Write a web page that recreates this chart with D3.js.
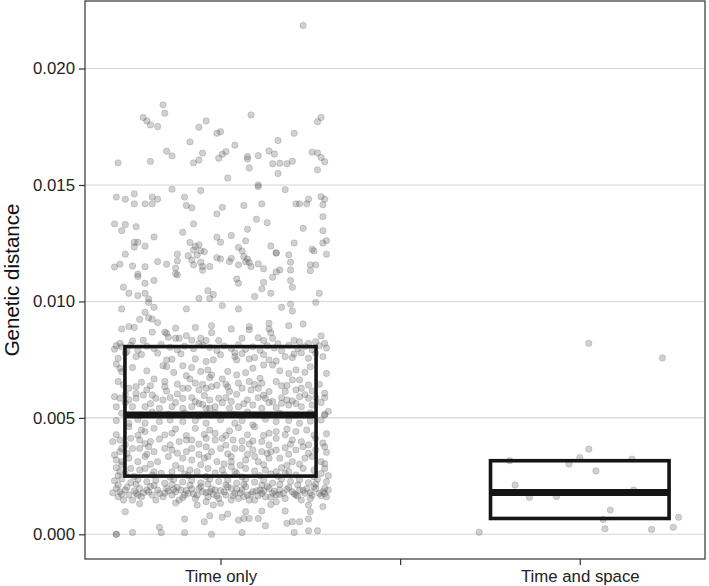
<!DOCTYPE html>
<html>
<head>
<meta charset="utf-8">
<script src="https://cdn.jsdelivr.net/npm/d3@7"></script>
<style>
  html, body { margin: 0; padding: 0; background: #fff; }
  svg text { font-family: "Liberation Sans", Arial, sans-serif; }
</style>
</head>
<body>
<div id="chart"></div>
<script>

const categories = ["Time only", "Time and space"];
const xTickLabels = ["Time only", "", "Time and space"];
const yTicks = [0, 0.005, 0.010, 0.015, 0.020];

// box stats per category
const q1Vals = [0.0025, 0.00068];
const medianVals = [0.00512, 0.0018];
const q3Vals = [0.00806, 0.00316];

// [jitter offset (category units), genetic distance]
const timeOnly = [
  [0.46,0.02185],
  [-0.32,0.01844],[-0.31,0.01808],[-0.43,0.0179],[-0.41,0.01775],[-0.39,0.01758],[-0.35,0.01751],[-0.08,0.01775],[-0.12,0.01748],[0.17,0.01801],[0.56,0.0179],[0.54,0.01772],[-0.02,0.01722],[0.0,0.01729],[0.41,0.01722],[-0.17,0.01685],[0.32,0.01691],[0.08,0.01671],[-0.30,0.01645],[-0.27,0.01625],[-0.57,0.01595],[-0.39,0.01601],[-0.15,0.01595],[-0.12,0.01607],[-0.10,0.01637],[-0.01,0.01615],[0.01,0.01632],[0.03,0.01643],[0.15,0.01622],[0.15,0.01612],[0.21,0.01626],[0.16,0.01573],[0.27,0.01646],[0.30,0.01633],[0.29,0.01591],[0.33,0.01593],[0.37,0.01591],[0.40,0.01602],[0.32,0.01549],[0.51,0.01641],[0.54,0.01638],[0.56,0.01618],[0.58,0.016],[0.54,0.01565],[0.04,0.0153],[0.21,0.015],
  [-0.58,0.01448],[-0.53,0.01439],[-0.48,0.01462],[-0.48,0.01419],[-0.42,0.01419],[-0.38,0.01419],[-0.38,0.01448],[-0.35,0.01439],[-0.27,0.01482],[-0.20,0.01448],[-0.19,0.01412],[-0.16,0.01402],[-0.11,0.01476],[0.01,0.01404],[-0.02,0.01376],[0.13,0.01412],[0.23,0.01419],[0.21,0.01493],[0.36,0.0148],[0.42,0.01419],[0.44,0.01419],[0.48,0.01419],[0.49,0.01439],[0.56,0.0145],[0.58,0.01439],[0.57,0.01415],[0.57,0.01364],
  [-0.59,0.01333],[-0.53,0.0133],[-0.55,0.01304],[-0.47,0.01321],[-0.15,0.01333],[-0.21,0.01297],[0.20,0.01353],[0.26,0.01338],[0.15,0.0131],[0.06,0.01283],[0.46,0.01314],[0.57,0.01304],[-0.37,0.01277],[-0.48,0.01254],[-0.46,0.01254],[-0.48,0.01234],[-0.42,0.01237],[-0.53,0.01203],[-0.56,0.0116],[-0.59,0.01148],[-0.49,0.01152],[-0.42,0.01149],[-0.35,0.01171],[-0.30,0.0116],[-0.46,0.01117],
  [-0.24,0.01203],[-0.24,0.01174],[-0.25,0.01143],[-0.25,0.01119],[-0.18,0.01196],[-0.17,0.01253],[-0.15,0.01221],[-0.14,0.01236],[-0.12,0.01243],[-0.13,0.01199],[-0.11,0.01217],[-0.09,0.01214],[-0.16,0.01178],[-0.15,0.01157],[-0.11,0.01168],[-0.10,0.0115],[-0.06,0.0115],[-0.10,0.01134],[-0.02,0.01276],[0.0,0.01254],[-0.02,0.01188],[0.0,0.01182],[0.05,0.01171],[0.06,0.01185],[0.10,0.01157],[0.10,0.01232],[0.14,0.0126],[0.12,0.01217],[0.13,0.01193],[0.15,0.01182],[0.16,0.01167],[0.14,0.0117],[0.17,0.0115],[0.21,0.01161],[0.24,0.0114],[0.28,0.01238],[0.31,0.01207],[0.31,0.01209],[0.31,0.01127],[0.33,0.01135],[0.38,0.012],[0.39,0.01168],[0.39,0.01135],[0.41,0.01251],[0.50,0.01157],[0.53,0.01157],[0.51,0.01224],[0.52,0.01217],[0.57,0.01251],[0.59,0.01261],[0.59,0.01203],[0.50,0.01132],
  [-0.46,0.01107],[-0.42,0.01078],[-0.37,0.0109],[-0.24,0.01114],[-0.54,0.01061],[-0.51,0.01035],[-0.46,0.01025],[-0.42,0.01035],[-0.40,0.01011],[-0.40,0.00996],[-0.37,0.00975],[-0.55,0.00968],[-0.42,0.00954],[-0.40,0.0093],[-0.45,0.00923],[-0.38,0.00924],[-0.35,0.00909],[-0.55,0.00882],[-0.51,0.00892],[-0.48,0.00888],[-0.25,0.00885],[-0.38,0.00868],[-0.31,0.00868],[-0.19,0.00968],[-0.14,0.00888],[-0.12,0.01013],[-0.07,0.01046],[-0.06,0.01013],[-0.04,0.0103],[-0.05,0.00896],[-0.05,0.00866],[0.01,0.00982],[0.09,0.01096],[0.10,0.01078],[0.10,0.00968],[0.06,0.00882],[0.16,0.00892],[0.16,0.00878],[0.19,0.01021],[0.23,0.01054],[0.24,0.01082],[0.28,0.01035],[0.29,0.01104],[0.39,0.0109],[0.40,0.01061],[0.34,0.00975],[0.39,0.00988],[0.40,0.00959],[0.27,0.00906],[0.27,0.00882],[0.28,0.00866],[0.38,0.00896],[0.46,0.00903],[0.55,0.01035],[0.53,0.00996],[0.56,0.00852],
  [-0.30,0.00863],[-0.29,0.00846],[-0.25,0.00842],[-0.23,0.00842],[-0.19,0.00853],[-0.16,0.00833],[-0.11,0.00842],[-0.08,0.00832],[-0.01,0.00832],[0.12,0.00842],[0.21,0.00844],[0.24,0.00832],[0.29,0.00842],[0.41,0.00832],[0.44,0.00827],[0.49,0.0082],[0.53,0.00827],[0.58,0.0082],[-0.56,0.0082],[-0.58,0.0081],[-0.49,0.0083],[-0.43,0.00833],
  [-0.59,0.00795],[-0.55,0.00805],[-0.50,0.00812],[-0.46,0.0079],[-0.41,0.00808],[-0.37,0.00798],[-0.33,0.00815],[-0.28,0.00803],[-0.24,0.00792],[-0.20,0.00808],[-0.15,0.00797],[-0.10,0.00812],[-0.06,0.00802],[-0.02,0.00789],[0.02,0.00809],[0.06,0.00798],[0.10,0.00814],[0.14,0.00795],[0.18,0.00805],[0.22,0.0079],[0.26,0.0081],[0.30,0.008],[0.34,0.00788],[0.38,0.00812],[0.43,0.00798],[0.47,0.00806],[0.51,0.00792],[0.55,0.0081],[0.59,0.008],[-0.52,0.00785],[-0.12,0.00818],[0.08,0.0078],[0.32,0.00818],[-0.35,0.00778],[0.45,0.00779],
  [-0.53,0.00778],[-0.44,0.00772],[-0.22,0.00775],[0.0,0.00771],[0.12,0.00776],[0.24,0.00771],[0.41,0.00774],[0.53,0.00777],
  [-0.47,0.00763],[-0.30,0.00749],[-0.27,0.00752],[-0.14,0.00753],[-0.08,0.00742],[-0.04,0.00749],[0.08,0.00763],[0.09,0.00749],[0.16,0.00753],[0.19,0.00759],[0.27,0.00749],[0.31,0.00744],[0.36,0.00763],[0.40,0.00759],[0.49,0.00756],[0.57,0.00763],[-0.56,0.00713],[-0.57,0.00756],[-0.58,0.0073],
  [-0.32,0.00724],[-0.30,0.0072],[-0.21,0.00724],[-0.16,0.00716],[-0.07,0.00706],[-0.05,0.00684],[0.04,0.00699],[0.09,0.00684],[0.18,0.00713],[0.24,0.00727],[0.29,0.00727],[0.38,0.00691],[0.42,0.00706],[0.50,0.0072],[0.59,0.00691],[-0.49,0.00716],
  [-0.55,0.00698],[-0.41,0.00702],[-0.26,0.00695],[-0.11,0.00699],[0.14,0.00694],[0.33,0.00702],[0.47,0.00696],
  [-0.44,0.00653],[-0.37,0.00667],[-0.31,0.00656],[-0.19,0.00681],[-0.17,0.00667],[-0.14,0.00649],[-0.10,0.00644],[-0.06,0.00673],[-0.08,0.00627],[0.01,0.00667],[0.03,0.00644],[0.10,0.00649],[0.16,0.00656],[0.22,0.0067],[0.23,0.00649],[0.31,0.00656],[0.40,0.00663],[0.44,0.00663],[0.49,0.00641],[0.45,0.00627],[-0.57,0.00656],[-0.47,0.00634],[-0.51,0.00627],
  [-0.54,0.00642],[-0.39,0.00638],[-0.24,0.00645],[-0.02,0.0064],[0.19,0.00643],[0.37,0.00639],[0.55,0.00644],
  [-0.41,0.0062],[-0.31,0.00634],[-0.30,0.00615],[-0.21,0.00627],[-0.18,0.00627],[-0.12,0.0062],[-0.05,0.00634],[0.04,0.00634],[0.05,0.00613],[0.12,0.00627],[0.17,0.0062],[0.21,0.00627],[0.27,0.00613],[0.34,0.00638],[0.36,0.00613],[0.42,0.0062],[0.51,0.00615],[-0.53,0.00601],[-0.47,0.00605],
  [-0.38,0.00598],[-0.24,0.00603],[-0.09,0.00596],[0.09,0.00601],[0.24,0.00597],[0.47,0.006],[0.58,0.00606],
  [-0.59,0.00591],[-0.56,0.00584],[-0.51,0.00577],[-0.47,0.00584],[-0.43,0.00598],[-0.36,0.00584],[-0.32,0.00577],[-0.28,0.00587],[-0.21,0.00584],[-0.16,0.00587],[-0.14,0.0057],[-0.10,0.00558],[-0.06,0.00577],[-0.01,0.00584],[0.03,0.00587],[0.06,0.0057],[0.15,0.00577],[0.21,0.00587],[0.25,0.00584],[0.29,0.0057],[0.34,0.00587],[0.37,0.00577],[0.40,0.00573],[0.44,0.00591],[0.49,0.00584],[0.53,0.00587],[0.58,0.00587],
  [-0.53,0.00565],[-0.39,0.00561],[-0.25,0.00566],[-0.12,0.00562],[0.01,0.00565],[0.13,0.00561],[0.27,0.00566],[0.42,0.00562],[0.56,0.00566],
  [-0.58,0.00548],[-0.49,0.00548],[-0.42,0.00548],[-0.34,0.00541],[-0.27,0.00548],[-0.21,0.00541],[-0.16,0.00548],[-0.08,0.00541],[-0.06,0.00541],[-0.03,0.00548],[0.05,0.00541],[0.10,0.00548],[0.18,0.00555],[0.23,0.00541],[0.31,0.00544],[0.34,0.00563],[0.38,0.00555],[0.45,0.00548],[0.51,0.00555],
  [-0.55,0.0052],[-0.45,0.00512],[-0.38,0.00525],[-0.29,0.00515],[-0.2,0.0052],[-0.12,0.00508],[-0.03,0.00522],[0.07,0.00515],[0.15,0.00525],[0.24,0.0051],[0.33,0.0052],[0.42,0.00512],[0.5,0.00522],[0.58,0.00515],[0.6,0.00528],
  [-0.51,0.00477],[-0.42,0.00477],[-0.34,0.00484],[-0.21,0.00484],[-0.08,0.00477],[0.08,0.00477],[0.18,0.0047],[0.31,0.00484],[0.44,0.00477],[0.56,0.00491],[0.58,0.00512],
  [-0.58,0.00488],[-0.46,0.00493],[-0.28,0.00491],[-0.14,0.00489],[0.0,0.00492],[0.12,0.00488],[0.25,0.00494],[0.38,0.00489],[0.5,0.00486],
  [-0.51,0.00462],[-0.44,0.00448],[-0.42,0.00441],[-0.37,0.00455],[-0.25,0.00452],[-0.27,0.00434],[-0.14,0.00455],[-0.06,0.00448],[-0.03,0.00434],[0.05,0.00444],[0.10,0.00458],[0.19,0.00462],[0.27,0.00434],[0.31,0.00441],[0.37,0.00452],[0.42,0.00441],[0.48,0.00448],
  [-0.58,0.00428],[-0.46,0.00425],[-0.31,0.00427],[-0.19,0.00424],[-0.09,0.00429],[0.03,0.00425],[0.15,0.00427],[0.24,0.00424],[0.36,0.00428],[0.52,0.00426],[0.59,0.00432],
  [-0.50,0.00412],[-0.45,0.00405],[-0.39,0.00398],[-0.34,0.00409],[-0.23,0.00398],[-0.19,0.00405],[-0.16,0.00405],[-0.08,0.00412],[-0.03,0.00405],[0.01,0.00412],[0.07,0.00405],[0.12,0.00401],[0.18,0.00401],[0.23,0.00398],[0.31,0.00412],[0.40,0.00405],[0.45,0.00398],[0.53,0.00412],[0.58,0.00376],[-0.60,0.00398],[-0.56,0.00405],
  [-0.53,0.00385],[-0.42,0.00389],[-0.28,0.00384],[-0.12,0.00387],[0.03,0.00383],[0.16,0.00388],[0.27,0.00384],[0.39,0.00387],[0.49,0.00384],[0.57,0.00392],
  [-0.49,0.00369],[-0.45,0.00369],[-0.40,0.00376],[-0.37,0.00355],[-0.31,0.00369],[-0.27,0.00362],[-0.19,0.00355],[-0.16,0.00369],[-0.08,0.00376],[-0.05,0.00355],[0.0,0.00369],[0.08,0.00369],[0.12,0.00369],[0.18,0.00362],[0.23,0.00355],[0.28,0.00355],[0.31,0.00362],[0.36,0.00372],[0.42,0.00362],[0.46,0.00376],[0.53,0.00362],[-0.59,0.00341],[-0.56,0.00355],[-0.55,0.00369],
  [-0.52,0.00347],[-0.41,0.00344],[-0.24,0.00348],[-0.12,0.00343],[0.04,0.00346],[0.15,0.00343],[0.26,0.00347],[0.38,0.00344],[0.49,0.00348],[0.59,0.00352],
  [-0.51,0.00327],[-0.46,0.00312],[-0.42,0.00334],[-0.35,0.00312],[-0.29,0.00334],[-0.21,0.00327],[-0.16,0.00319],[-0.09,0.00327],[-0.07,0.00334],[-0.02,0.00312],[0.06,0.00334],[0.06,0.00312],[0.14,0.00319],[0.19,0.00334],[0.21,0.00312],[0.27,0.00327],[0.33,0.00327],[0.40,0.00312],[0.47,0.00327],[0.51,0.00334],[0.56,0.00312],[-0.58,0.00319],[-0.55,0.00312],
  [-0.55,0.00298],[-0.39,0.00301],[-0.25,0.00296],[-0.11,0.00299],[0.02,0.00302],[0.11,0.00297],[0.24,0.00299],[0.37,0.00296],[0.44,0.00301],[0.58,0.00303],
  [-0.50,0.00283],[-0.45,0.00276],[-0.42,0.00283],[-0.37,0.00269],[-0.27,0.00269],[-0.22,0.00283],[-0.17,0.00276],[-0.13,0.00269],[-0.07,0.00283],[0.01,0.00276],[0.06,0.0029],[0.08,0.00269],[0.14,0.00283],[0.19,0.00272],[0.25,0.00276],[0.31,0.00269],[0.34,0.00286],[0.38,0.00269],[0.46,0.00283],[0.52,0.00276],[0.58,0.00283],[-0.58,0.00286],[-0.56,0.00269],
  [-0.53,0.0026],[-0.33,0.00262],[-0.2,0.00259],[-0.03,0.00263],[0.09,0.00261],[0.28,0.00259],[0.36,0.00262],[0.56,0.00261],
  [-0.57,0.00252],[-0.48,0.00248],[-0.38,0.00255],[-0.28,0.00245],[-0.18,0.00252],[-0.08,0.00248],[0.02,0.00255],[0.12,0.00246],[0.22,0.00252],[0.32,0.00249],[0.42,0.00255],[0.52,0.00247],[0.6,0.00252],
  [-0.59,0.0023],[-0.55,0.00238],[-0.5,0.00222],[-0.46,0.00235],[-0.41,0.00226],[-0.36,0.00232],[-0.31,0.00219],[-0.26,0.00236],[-0.21,0.00225],[-0.16,0.00231],[-0.11,0.00221],[-0.06,0.00237],[-0.01,0.00227],[0.04,0.00233],[0.09,0.0022],[0.14,0.00236],[0.19,0.00224],[0.24,0.00232],[0.29,0.0022],[0.34,0.00238],[0.39,0.00227],[0.44,0.00234],[0.49,0.00222],[0.54,0.00236],[0.59,0.00226],
  [-0.57,0.00212],[-0.47,0.00215],[-0.37,0.0021],[-0.27,0.00214],[-0.17,0.00211],[-0.07,0.00216],[0.03,0.00212],[0.13,0.00215],[0.23,0.00211],[0.33,0.00214],[0.43,0.00212],[0.53,0.00216],
  [-0.58,0.00197],[-0.56,0.00183],[-0.53,0.0019],[-0.51,0.00169],[-0.47,0.00176],[-0.45,0.00197],[-0.44,0.00161],[-0.41,0.0019],[-0.38,0.00169],[-0.35,0.0019],[-0.32,0.00161],[-0.30,0.00197],[-0.27,0.00169],[-0.25,0.00183],[-0.22,0.0019],[-0.20,0.00169],[-0.18,0.00176],[-0.14,0.00154],[-0.12,0.00197],[-0.10,0.00183],[-0.07,0.00161],[-0.06,0.00183],[-0.03,0.0019],[-0.01,0.00154],[0.03,0.00169],[0.06,0.00197],[0.08,0.00176],[0.10,0.00154],[0.12,0.0019],[0.15,0.00169],[0.18,0.00183],[0.19,0.00147],[0.22,0.0019],[0.25,0.00161],[0.27,0.00197],[0.29,0.00176],[0.31,0.00169],[0.33,0.0019],[0.36,0.00154],[0.40,0.00183],[0.42,0.00169],[0.44,0.0019],[0.47,0.00176],[0.50,0.00154],[0.53,0.00197],[0.55,0.00176],[0.57,0.00183],[0.59,0.00161],[-0.57,0.00161],[-0.54,0.00147],[-0.49,0.00147],[-0.36,0.00147],[-0.23,0.00147],[-0.08,0.0014],[0.06,0.00147],[0.16,0.00147],[0.31,0.0014],[0.45,0.00147],[0.60,0.0019],
  [-0.6,0.00178],[-0.52,0.00203],[-0.48,0.00186],[-0.43,0.00178],[-0.39,0.00205],[-0.34,0.00175],[-0.29,0.00186],[-0.24,0.00202],[-0.19,0.00188],[-0.15,0.00174],[-0.11,0.00205],[-0.08,0.00179],[-0.04,0.00172],[0.0,0.00188],[0.04,0.00203],[0.07,0.00166],[0.11,0.00178],[0.14,0.00204],[0.17,0.00172],[0.2,0.00187],[0.23,0.00175],[0.26,0.00205],[0.3,0.00185],[0.35,0.00176],[0.38,0.00201],[0.41,0.00174],[0.46,0.00188],[0.5,0.00179],[0.52,0.00204],[0.56,0.00166],[0.58,0.00198],
  [-0.55,0.00172],[-0.46,0.00168],[-0.4,0.00182],[-0.31,0.00177],[-0.26,0.00193],[-0.21,0.00158],[-0.16,0.00195],[-0.13,0.00168],[-0.05,0.00196],[-0.02,0.00165],[0.02,0.00182],[0.09,0.00194],[0.13,0.00162],[0.21,0.00166],[0.24,0.00187],[0.28,0.00159],[0.33,0.00171],[0.37,0.00193],[0.43,0.00164],[0.48,0.00196],[0.51,0.00168],[0.58,0.00175],
  [-0.45,0.00131],[0.0,0.00133],[0.28,0.00128],[-0.25,0.00135],
  [-0.53,0.00097],[-0.20,0.00066],[-0.09,0.00054],[-0.06,0.0008],[0.01,0.00073],[0.04,0.00087],[0.10,0.00061],[0.13,0.00068],[0.16,0.00068],[0.14,0.00097],[0.21,0.00068],[0.23,0.001],[0.25,0.00037],[0.36,0.001],[0.37,0.00047],[0.40,0.00054],[0.44,0.00054],[0.49,0.00066],[0.50,0.00097],[0.57,0.00119],[-0.34,0.0003],[-0.33,0.00007],[-0.49,0.00008],[-0.58,0.0],[-0.58,0.0],[-0.20,0.00007],[-0.05,0.0],[0.12,0.00007],[0.41,0.00008],[0.49,0.00015],[0.54,0.00015],[-0.13,0.00126],[-0.04,0.00126],[0.49,0.00126]
];

const timeAndSpace = [
  [0.05,0.0082],[0.46,0.00757],[0.05,0.00366],[-0.39,0.00316],[0.0,0.00329],[-0.06,0.00302],[0.29,0.00323],[0.09,0.00272],[-0.36,0.00212],[-0.28,0.00159],[-0.13,0.00162],[0.30,0.0019],[0.17,0.00104],[0.13,0.00064],[0.55,0.00073],[0.14,0.00024],[0.40,0.00021],[0.52,0.0003],[-0.56,0.00009]
];

const width = 709, height = 586;
const panel = {left: 85, right: 705, top: 1, bottom: 559};
const catPos = [1, 3];
const boxHalf = [0.532, 0.497];

const svg = d3.select("#chart").append("svg")
    .attr("width", width)
    .attr("height", height);

const x = d3.scaleLinear()
    .domain([0.2457, 3.697])
    .range([panel.left, panel.right]);

const y = d3.scaleLinear()
    .domain([-0.00106, 0.0229])
    .range([panel.bottom, panel.top]);

// horizontal grid
svg.append("g")
    .selectAll("line")
    .data(yTicks)
    .enter()
    .append("line")
    .attr("x1", panel.left)
    .attr("x2", panel.right)
    .attr("y1", d => y(d))
    .attr("y2", d => y(d))
    .attr("stroke", "#d6d6d6")
    .attr("stroke-width", 1.1);

const groups = [timeOnly, timeAndSpace];

groups.forEach((pts, i) => {
    svg.append("g")
        .attr("class", "points")
        .selectAll("circle")
        .data(pts)
        .enter()
        .append("circle")
        .attr("cx", d => x(catPos[i] + d[0]))
        .attr("cy", d => y(d[1]))
        .attr("r", 3.2)
        .attr("fill", "#555")
        .attr("fill-opacity", 0.27)
        .attr("stroke", "#555")
        .attr("stroke-opacity", 0.27)
        .attr("stroke-width", 0.8);
});

// boxes (no whiskers)
const boxes = svg.append("g").attr("class", "boxes");
categories.forEach((c, i) => {
    boxes.append("rect")
        .attr("x", x(catPos[i] - boxHalf[i]))
        .attr("y", y(q3Vals[i]))
        .attr("width", x(catPos[i] + boxHalf[i]) - x(catPos[i] - boxHalf[i]))
        .attr("height", y(q1Vals[i]) - y(q3Vals[i]))
        .attr("fill", "none")
        .attr("stroke", "#151515")
        .attr("stroke-width", 3.6);
    boxes.append("line")
        .attr("x1", x(catPos[i] - boxHalf[i]))
        .attr("x2", x(catPos[i] + boxHalf[i]))
        .attr("y1", y(medianVals[i]))
        .attr("y2", y(medianVals[i]))
        .attr("stroke", "#151515")
        .attr("stroke-width", 7);
});

// panel border
svg.append("rect")
    .attr("x", panel.left)
    .attr("y", panel.top)
    .attr("width", panel.right - panel.left)
    .attr("height", panel.bottom - panel.top)
    .attr("fill", "none")
    .attr("stroke", "#333")
    .attr("stroke-width", 1.2);

const yAxis = d3.axisLeft(y)
    .tickValues(yTicks)
    .tickFormat(d3.format(".3f"))
    .tickSize(6)
    .tickPadding(4);

const xAxis = d3.axisBottom(x)
    .tickValues([1, 2, 3])
    .tickFormat((d, i) => xTickLabels[i])
    .tickSize(6)
    .tickPadding(5);

const gy = svg.append("g")
    .attr("transform", "translate(" + panel.left + ",0)")
    .call(yAxis);

const gx = svg.append("g")
    .attr("transform", "translate(0," + panel.bottom + ")")
    .call(xAxis);

[gx, gy].forEach(g => {
    g.select(".domain").remove();
    g.selectAll(".tick line").attr("stroke", "#333").attr("stroke-width", 1.2);
    g.selectAll(".tick text")
        .attr("fill", "#222")
        .style("font-size", "16.8px");
});

svg.append("text")
    .attr("transform", "translate(19," + (panel.top + panel.bottom) / 2 + ") rotate(-90)")
    .attr("text-anchor", "middle")
    .attr("fill", "#111")
    .style("font-size", "20.5px")
    .text("Genetic distance");

</script>
</body>
</html>
